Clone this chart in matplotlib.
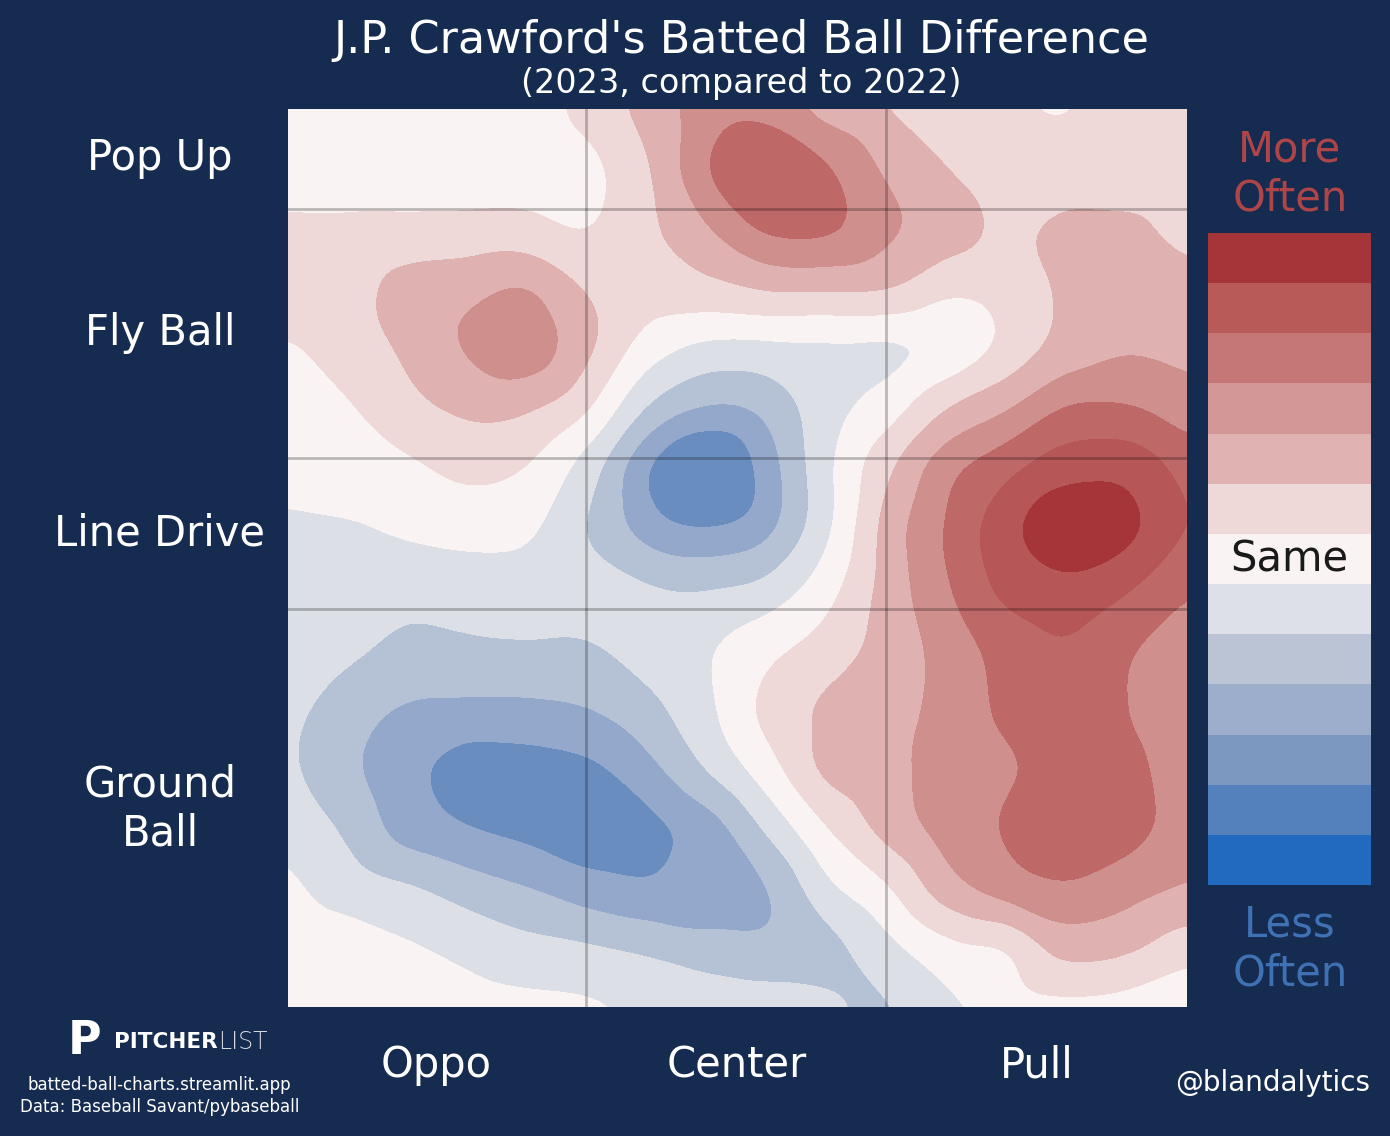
import matplotlib
matplotlib.use('Agg')
import matplotlib.pyplot as plt
import matplotlib.tri as mtri
import numpy as np

bg = '#162B50'

# level of the difference every 6 degrees across, 6 degrees down
grid_x = np.linspace(-45, 45, 16)
grid_y = np.linspace(60, -30, 16)
diff = np.array([
    [0.0, 0.0, 0.0, 0.0, 0.1, 0.8, 1.9, 3.0, 3.1, 2.0, 1.45, 1.0, 0.6, 0.45, 0.8, 1.0],
    [0.0, 0.0, 0.0, 0.0, 0.1, 0.2, 1.4, 3.5, 4.4, 3.6, 2.3, 1.5, 0.9, 0.8, 1.0, 1.1],
    [0.7, 0.7, 0.75, 0.8, 0.8, 0.45, 1.3, 2.4, 3.7, 3.7, 2.7, 2.0, 1.3, 1.8, 1.7, 1.1],
    [1.0, 1.1, 1.9, 2.2, 2.55, 1.4, 0.9, 1.2, 1.6, 1.6, 1.55, 0.7, 0.9, 1.7, 2.2, 1.9],
    [0.4, 0.9, 1.7, 2.6, 3.1, 1.7, 0.0, -0.8, -0.8, -0.7, -0.75, -0.35, 0.8, 1.9, 2.4, 2.3],
    [0.1, 0.4, 1.2, 1.7, 1.6, 0.6, -1.6, -2.6, -2.2, -0.9, 0.0, 1.5, 2.4, 3.6, 3.6, 2.9],
    [-0.1, 0.0, 0.3, 0.75, 0.45, -1.0, -3.5, -4.8, -3.0, -0.7, 1.3, 3.2, 4.2, 5.1, 5.2, 4.1],
    [-0.7, -0.6, -0.3, -0.1, -0.3, -1.55, -3.0, -3.5, -2.8, -0.7, 1.9, 3.6, 5.2, 6.3, 5.8, 4.4],
    [-1.0, -1.1, -1.25, -1.1, -0.95, -1.1, -1.4, -1.55, -1.2, 0.1, 1.9, 3.4, 4.8, 5.2, 4.6, 3.6],
    [-1.0, -1.3, -1.7, -1.65, -1.6, -1.6, -1.1, -0.6, 0.2, 0.9, 1.9, 2.9, 3.9, 4.4, 3.6, 3.0],
    [-1.2, -2.0, -2.6, -2.7, -2.7, -2.5, -1.8, -0.7, 0.8, 1.7, 2.0, 2.9, 3.7, 4.0, 3.5, 3.0],
    [-1.3, -2.3, -3.2, -4.0, -3.9, -3.7, -2.8, -1.4, 0.1, 1.8, 2.2, 2.9, 3.35, 3.9, 3.7, 3.1],
    [-0.8, -1.7, -3.0, -3.5, -3.8, -4.2, -3.8, -3.0, -1.3, 0.5, 1.9, 2.9, 3.6, 4.2, 3.9, 3.0],
    [-0.3, -1.0, -1.4, -2.0, -2.5, -3.1, -3.4, -2.9, -2.55, -0.7, 0.4, 2.1, 3.0, 3.4, 2.9, 2.4],
    [0.0, 0.0, -0.4, -0.8, -1.2, -1.4, -1.7, -2.2, -2.3, -1.8, -0.8, 0.2, 0.5, 1.9, 1.7, 0.9],
    [0.0, 0.0, 0.0, -0.1, -0.2, -0.3, -0.7, -0.6, -0.9, -1.3, -1.6, -0.8, 0.0, 0.15, 0.0, -0.3],
])

levels = [-9, -3.5, -2.5, -1.5, -0.5, 0.5, 1.5, 2.5, 3.5, 4.5, 5.5, 9]
fill_colors = ['#6A8DC0', '#94A8CB', '#B5C1D5', '#DCDFE5', '#F9F4F3', '#EFD9D8',
               '#DFB2B1', '#CF8F8D', '#BF6868', '#B75656', '#A63539']
bar_colors = ['#A63539', '#B85B58', '#C47775', '#D29796', '#E0B3B2', '#EFD9D8', '#F9F4F3',
              '#DDE0E6', '#BBC4D5', '#9CAECB', '#7C98C1', '#5480BC', '#2269C0']

y_names = ['Pop Up', 'Fly Ball', 'Line Drive', 'Ground\nBall']
x_names = ['Oppo', 'Center', 'Pull']
x_lines = [-15.17, 14.87]
y_lines = [50, 25, 9.9]

W, H = 1390, 1136
fig = plt.figure(figsize=(W / 100, H / 100), dpi=100, facecolor=bg)


def px_axes(x0, y0, x1, y1):
    return fig.add_axes([x0 / W, 1 - y1 / H, (x1 - x0) / W, (y1 - y0) / H])


def blur(z, sigma):
    # light smoothing so the contours do not show the sampling grid
    n = int(3 * sigma)
    k = np.exp(-0.5 * (np.arange(-n, n + 1) / sigma) ** 2)
    k = k / k.sum()
    z = np.pad(z, n, mode='edge')
    z = np.apply_along_axis(lambda r: np.convolve(r, k, mode='same'), 0, z)
    z = np.apply_along_axis(lambda r: np.convolve(r, k, mode='same'), 1, z)
    return z[n:-n, n:-n]


ax = px_axes(288, 109, 1187, 1007)
xx, yy = np.meshgrid(grid_x, grid_y)
tri = mtri.Triangulation(xx.ravel(), yy.ravel())
interp = mtri.CubicTriInterpolator(tri, diff.ravel(), kind='geom')
fx, fy = np.meshgrid(np.linspace(-45, 45, 300), np.linspace(-30, 60, 300))
fz = blur(np.ma.filled(interp(fx, fy), 0), 4)
ax.contourf(fx, fy, fz, levels=levels, colors=fill_colors)
for v in x_lines:
    ax.axvline(v, color='k', alpha=0.25, lw=2)
for v in y_lines:
    ax.axhline(v, color='k', alpha=0.25, lw=2)
ax.set_xlim(-45, 45)
ax.set_ylim(-30, 60)
ax.axis('off')

cb = px_axes(1208, 233, 1371, 885)
cb.bar(np.zeros(13), np.ones(13), bottom=np.arange(13)[::-1], width=1, color=bar_colors)
cb.set_xlim(-0.5, 0.5)
cb.set_ylim(0, 13)
cb.axis('off')
cb.text(0, 6.5, 'Same', color='#1A1A1A', fontsize=30, ha='center', va='center')


def label(x, y, s, size, color='w', **kw):
    fig.text(x / W, 1 - y / H, s, fontsize=size, color=color, ha='center', va='center', **kw)


label(741, 41, "J.P. Crawford's Batted Ball Difference", 32)
label(741, 83, '(2023, compared to 2022)', 24)
for y, s in zip([158, 333, 533, 809], y_names):
    label(160, y, s, 30, linespacing=1.2)
for x, s in zip([436, 737, 1037], x_names):
    label(x, 1065, s, 30)
label(1290, 174, 'More\nOften', 30, color='#AD4549', linespacing=1.2)
label(1290, 949, 'Less\nOften', 30, color='#3F72B5', linespacing=1.2)
label(1273, 1083, '@blandalytics', 20)
label(159, 1085, 'batted-ball-charts.streamlit.app', 12)
label(160, 1107, 'Data: Baseball Savant/pybaseball', 12)

# logo
label(85, 1041, 'P', 33, fontweight='bold')
fig.text(114 / W, 1 - 1042 / H, 'PITCHER', fontsize=15.5, color='w', fontweight='bold', ha='left', va='center')
fig.text(218 / W, 1 - 1042 / H, 'LIST', fontsize=17, color='#D5D8DE', fontweight='light', ha='left', va='center')

fig.savefig('out.png', dpi=100, facecolor=bg)
